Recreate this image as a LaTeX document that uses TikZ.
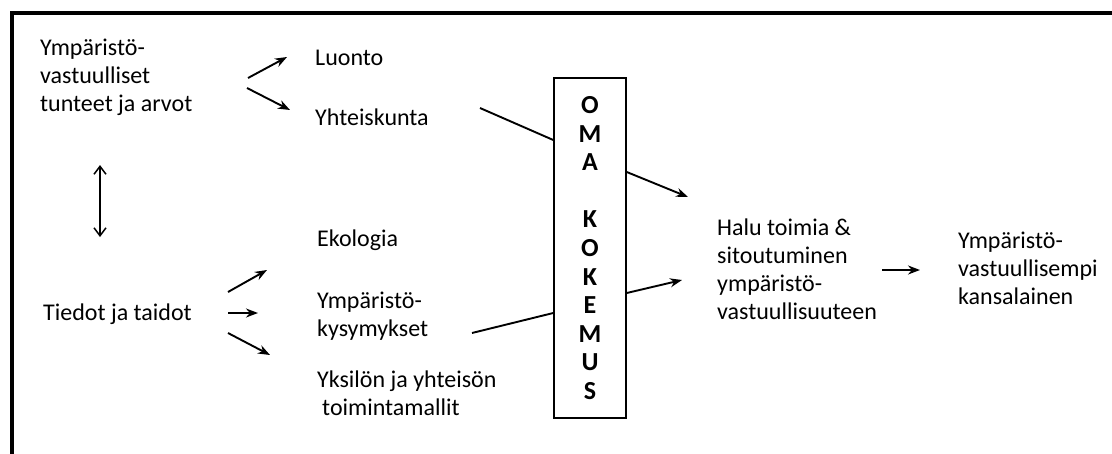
\documentclass[tikz,border=0pt]{standalone}
\usepackage{fontspec}
\setmainfont{Carlito}
\usetikzlibrary{arrows.meta}
\begin{document}
\begin{tikzpicture}[x=1pt,y=-1pt,
  txt/.style={font=\fontsize{24}{28}\selectfont, inner sep=0pt, anchor=west, align=left},
  arr/.style={line width=1.9pt, -{Stealth[length=12pt,width=9pt]}},
  conn/.style={line width=1.9pt},
  dbl/.style={line width=1.5pt, {Straight Barb[length=8pt,width=12pt]}-{Straight Barb[length=8pt,width=12pt]}},
  frame/.style={line width=3.5pt},
  boxst/.style={draw, line width=1.5pt, minimum width=72pt, minimum height=340pt, inner sep=0pt,
    align=center, font=\fontsize{26}{28.6}\selectfont\bfseries}]
\useasboundingbox (0,0) rectangle (1112,453);
\fill[white] (0,0) rectangle (1112,453);
\draw[frame] (12,460) -- (12,13) -- (1120,13);

% text nodes
\node[txt] (arvot) at (40,77) {Ympäristö-\\vastuulliset\\tunteet ja arvot};
\node[txt] (luonto) at (315,58) {Luonto};
\node[txt] (yht) at (315,117) {Yhteiskunta};
\node[txt] (tiedot) at (43,314) {Tiedot ja taidot};
\node[txt] (eko) at (317,240) {Ekologia};
\node[txt] (kys) at (317,316) {Ympäristö-\\kysymykset};
\node[txt] (yks) at (317,393) {Yksilön ja yhteisön\\\hspace{5pt}toimintamallit};
\node[boxst] (oma) at (590,248) {O\\M\\A\\\mbox{}\\K\\O\\K\\E\\M\\U\\S};
\node[txt] (halu) at (717,269) {Halu toimia \&\\sitoutuminen\\ympäristö-\\vastuullisuuteen};
\node[txt] (kans) at (958,268) {Ympäristö-\\vastuullisempi\\kansalainen};

% connector end points
\coordinate (a1s) at (248,78);  \coordinate (a1e) at (287,57);
\coordinate (a2s) at (247,88);  \coordinate (a2e) at (290,110);
\coordinate (d1) at (100,165);  \coordinate (d2) at (100,237);
\coordinate (t1s) at (228,292); \coordinate (t1e) at (267,270);
\coordinate (t2s) at (228,313); \coordinate (t2e) at (258,313);
\coordinate (t3s) at (228,333); \coordinate (t3e) at (270,355);
\coordinate (y1) at (480,108);  \coordinate (b1) at (oma.west |- 0,140);
\coordinate (y2) at (472,333);  \coordinate (b2) at (oma.west |- 0,313);
\coordinate (b3) at (oma.east |- 0,172); \coordinate (h1) at (688,197);
\coordinate (b4) at (oma.east |- 0,293); \coordinate (h2) at (682,280);
\coordinate (k1) at (882,270);  \coordinate (k2) at (920,270);

\draw[arr] (a1s) -- (a1e);
\draw[arr] (a2s) -- (a2e);
\draw[dbl] (d1) -- (d2);
\draw[arr] (t1s) -- (t1e);
\draw[arr] (t2s) -- (t2e);
\draw[arr] (t3s) -- (t3e);
\draw[conn] (y1) -- (b1);
\draw[conn] (y2) -- (b2);
\draw[arr] (b3) -- (h1);
\draw[arr] (b4) -- (h2);
\draw[arr] (k1) -- (k2);
\end{tikzpicture}
\end{document}
